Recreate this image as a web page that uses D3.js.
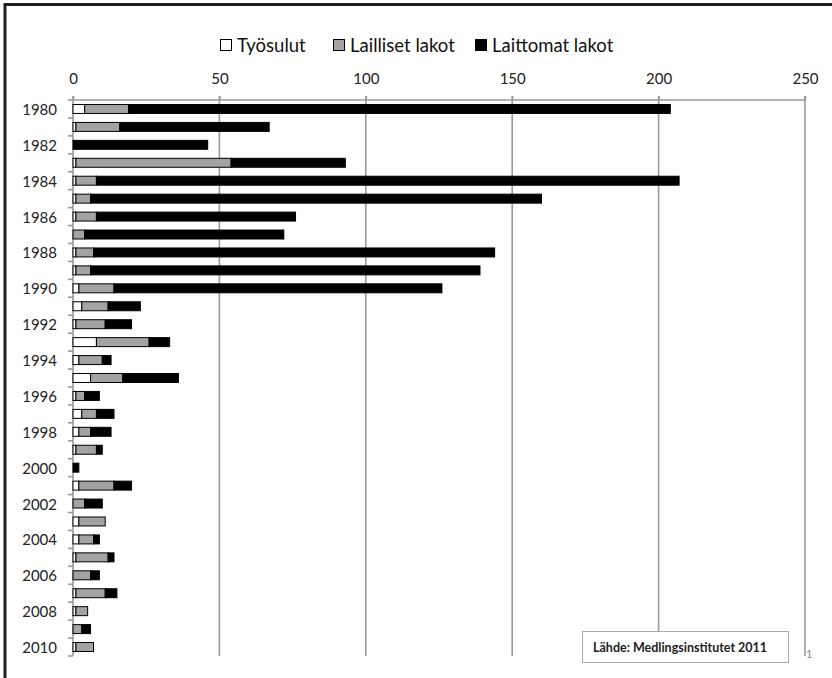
<!DOCTYPE html>
<html>
<head>
<meta charset="utf-8">
<script src="https://cdn.jsdelivr.net/npm/d3@7"></script>
<style>
  html, body { margin: 0; padding: 0; background: #fff; }
  svg { display: block; font-family: Lato, "Open Sans", sans-serif; }
</style>
</head>
<body>
<svg id="chart" width="832" height="678"></svg>
<script>
// Strikes and lockouts per year, stacked horizontally
const years = d3.range(1980, 2011);
const tyosulut = [4, 1, 0, 1, 1, 1, 1, 0, 1, 1, 2, 3, 1, 8, 2, 6, 1, 3, 2, 1, 0, 2, 0, 2, 2, 1, 0, 1, 1, 0, 1];
const lailliset = [15, 15, 0, 53, 7, 5, 7, 4, 6, 5, 12, 9, 10, 18, 8, 11, 3, 5, 4, 7, 0, 12, 4, 9, 5, 11, 6, 10, 4, 3, 6];
const laittomat = [185, 51, 46, 39, 199, 154, 68, 68, 137, 133, 112, 11, 9, 7, 3, 19, 5, 6, 7, 2, 2, 6, 6, 0, 2, 2, 3, 4, 0, 3, 0];
const seriesNames = ["Työsulut", "Lailliset lakot", "Laittomat lakot"];
const seriesColors = ["#ffffff", "#a3a3a3", "#000000"];
const xTicks = [0, 50, 100, 150, 200, 250];
const sourceText = "Lähde: Medlingsinstitutet 2011";

const rows = years.map((yr, i) => ({
  year: yr,
  "Työsulut": tyosulut[i],
  "Lailliset lakot": lailliset[i],
  "Laittomat lakot": laittomat[i]
}));
const stacked = d3.stack().keys(seriesNames)(rows);

const svg = d3.select("#chart");
const plotLeft = 73, plotRight = 805, plotTop = 100, plotBottom = 656;

const x = d3.scaleLinear().domain([0, 250]).range([plotLeft, plotRight]);
const y = d3.scaleBand().domain(years).range([plotTop, plotBottom]).paddingInner(0.5).paddingOuter(0.25);

// frame
svg.append("path")
  .attr("d", `M5,678 V4.5 H832`)
  .attr("fill", "none").attr("stroke", "#1e1e1e").attr("stroke-width", 3);

// vertical gridlines
svg.append("g").selectAll("line").data(xTicks.slice(1)).join("line")
  .attr("x1", d => x(d)).attr("x2", d => x(d))
  .attr("y1", plotTop - 4).attr("y2", plotBottom)
  .attr("stroke", "#9a9a9a").attr("stroke-width", 1.6);

// top axis
const xAxis = d3.axisTop(x).tickValues(xTicks).tickSize(4).tickPadding(12);
const gx = svg.append("g").attr("transform", `translate(0,${plotTop})`).call(xAxis);
gx.select(".domain").attr("stroke", "#9a9a9a").attr("stroke-width", 1.6)
  .attr("d", `M${plotLeft},-4V0H${plotRight}V-4`);
gx.selectAll(".tick line").attr("stroke", "#9a9a9a").attr("stroke-width", 1.6);
gx.selectAll(".tick text").attr("fill", "#222").style("font-size", "15px")
  .style("font-family", "Lato, sans-serif");

// left axis: ticks between categories, labels on even years
const ga = svg.append("g");
ga.append("line").attr("x1", plotLeft).attr("x2", plotLeft).attr("y1", plotTop).attr("y2", plotBottom)
  .attr("stroke", "#9a9a9a").attr("stroke-width", 1.6);
const bounds = d3.range(0, years.length + 1).map(i => plotTop + i * y.step());
ga.selectAll("line.tk").data(bounds).join("line").attr("class", "tk")
  .attr("x1", plotLeft - 5).attr("x2", plotLeft)
  .attr("y1", d => d).attr("y2", d => d)
  .attr("stroke", "#9a9a9a").attr("stroke-width", 1.6);
ga.selectAll("text").data(years.filter(v => v % 2 === 0)).join("text")
  .attr("x", 57).attr("y", d => y(d) + y.bandwidth() / 2)
  .attr("text-anchor", "end").attr("dominant-baseline", "central")
  .attr("fill", "#222").style("font-size", "15px")
  .text(d => d);

// bars
svg.append("g").selectAll("g").data(stacked).join("g")
  .attr("fill", (d, i) => seriesColors[i])
  .selectAll("rect").data(d => d.filter(s => s[1] - s[0] > 0)).join("rect")
  .attr("x", d => x(d[0]))
  .attr("y", d => y(d.data.year))
  .attr("width", d => x(d[1]) - x(d[0]))
  .attr("height", y.bandwidth())
  .attr("stroke", "#000").attr("stroke-width", 1);

// legend
const legendX = [220.5, 333.5, 475.5];
const lg = svg.append("g");
seriesNames.forEach((name, i) => {
  lg.append("rect").attr("x", legendX[i]).attr("y", 39.5).attr("width", 11).attr("height", 11)
    .attr("fill", seriesColors[i]).attr("stroke", "#000").attr("stroke-width", 1);
  lg.append("text").attr("x", legendX[i] + 16.5).attr("y", 45)
    .attr("dominant-baseline", "central").attr("fill", "#111")
    .style("font-size", "18.5px").text(name);
});

// source box
svg.append("rect").attr("x", 582.5).attr("y", 631.5).attr("width", 206).attr("height", 31)
  .attr("fill", "#fff").attr("stroke", "#aaa").attr("stroke-width", 1);
svg.append("text").attr("x", 593).attr("y", 647).attr("dominant-baseline", "central")
  .attr("fill", "#222").style("font-size", "12.5px").style("font-weight", "bold")
  .text(sourceText);
svg.append("text").attr("x", 806).attr("y", 653).attr("dominant-baseline", "central")
  .attr("fill", "#888").style("font-size", "11px").text("1");
</script>
</body>
</html>
